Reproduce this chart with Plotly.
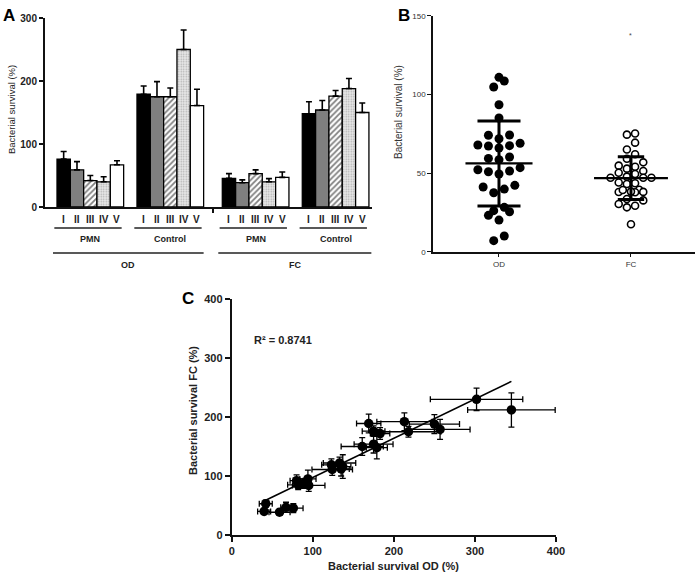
import numpy as np
import plotly.graph_objects as go

FONT = "Liberation Sans, Arial, sans-serif"
W, H = 700, 577

# ---------------- Panel A data ----------------
isolates = ["I", "II", "III", "IV", "V"]
group_names = ["PMN", "Control", "PMN", "Control"]
super_names = ["OD", "FC"]
od_pmn = [76, 59, 42, 40, 67]
od_pmn_err = [12, 13, 8, 8, 6.5]
od_ctrl = [179, 175, 175, 250, 161]
od_ctrl_err = [13, 24, 14, 31, 26]
fc_pmn = [45.5, 38.6, 53, 40, 47]
fc_pmn_err = [7.5, 4.5, 6, 5, 8.5]
fc_ctrl = [148, 154, 176, 188, 150]
fc_ctrl_err = [19, 15, 9, 16, 15]
a_yticks = [0, 100, 200, 300]

# ---------------- Panel B data ----------------
b_categories = ["OD", "FC"]
od_survival = [7, 10, 20.1, 23.1, 25.4, 26.1, 28.2, 37.5, 39.8, 41.1, 42.2,
               49.4, 50.8, 51.3, 52.1, 53.4, 58.5, 59.3, 60.2, 65.9, 67.2,
               67.4, 67.8, 68.9, 71.8, 74, 74.2, 85, 93.4, 104.7, 108.5, 110.8]
fc_survival = [75.1, 74.4, 69.3, 65, 61.9, 59.1, 56.8, 54.7, 54.0, 51.3, 52.8,
               50.2, 49.4, 47.7, 47, 47, 47, 44, 43.5, 43, 39.4, 38, 37.8, 37.9,
               38.2, 39.2, 33.5, 32.6, 30.3, 29.2, 28.2, 17.4]
fc_outlier_mark = 139
b_yticks = [0, 50, 100, 150]

# ---------------- Panel C data ----------------
c_od = [40, 42, 59, 67, 76, 80, 82, 88, 94, 95, 123, 124, 133, 137, 135,
        161, 169, 175, 175, 179, 183, 213, 218, 250, 257, 302, 345]
c_fc = [40, 53, 38.6, 47, 45.5, 92, 85, 87, 95, 84, 119, 111, 122, 116, 112,
        150, 189, 154, 176, 148, 172, 192, 175, 188, 179, 230, 212]
c_od_err = [8, 8, 13, 6.5, 12, 8, 13, 10, 10, 20, 12, 25, 20, 10, 10,
            26, 15, 24, 14, 13, 12, 34, 40, 31, 37, 57, 54]
c_fc_err = [5, 6, 4.5, 8.5, 7.5, 10, 8, 8, 15, 10, 10, 10, 10, 20, 12,
            15, 16, 15, 9, 19, 10, 15, 9, 16, 17, 19, 29]
fit_slope = 0.665
fit_intercept = 31.0
r2_text = "R² = 0.8741"
c_ticks = [0, 100, 200, 300, 400]


def px_x(p):
    return p / W


def px_y(p):
    return 1 - p / H


fig = go.Figure()

# ---------- Panel A bars ----------
group_starts = [0, 6, 12.4, 18.4]
all_vals = [od_pmn, od_ctrl, fc_pmn, fc_ctrl]
all_errs = [od_pmn_err, od_ctrl_err, fc_pmn_err, fc_ctrl_err]
styles = [
    dict(color="black"),
    dict(color="#7f7f7f"),
    dict(color="white", pattern=dict(shape="/", fgcolor="black", bgcolor="white", size=4, solidity=0.45)),
    dict(color="#d9d9d9", pattern=dict(shape=".", fgcolor="#707070", bgcolor="#e8e8e8", size=2.5, solidity=0.3)),
    dict(color="white"),
]
for k, iso in enumerate(isolates):
    xs = [g + k for g in group_starts]
    ys = [vals[k] for vals in all_vals]
    es = [errs[k] for errs in all_errs]
    m = dict(styles[k])
    m["line"] = dict(color="black", width=1.3)
    fig.add_trace(go.Bar(
        x=xs, y=ys, width=1.0, marker=m, name=iso, showlegend=False,
        error_y=dict(type="data", symmetric=False, array=es, arrayminus=[0] * 4,
                     color="black", thickness=1.6, width=3),
        xaxis="x", yaxis="y"))

# ---------- Panel B swarm ----------
def swarm(values, w, step):
    order = sorted(range(len(values)), key=lambda i: values[i])
    xs = [0.0] * len(values)
    groups, cur = [], []
    for i in order:
        if cur and values[i] - values[cur[0]] > w:
            groups.append(cur)
            cur = []
        cur.append(i)
    groups.append(cur)
    for g in groups:
        n = len(g)
        slots = sorted([(j - (n - 1) / 2) for j in range(n)], key=lambda s: (abs(s), s))
        for idx, i in enumerate(g):
            xs[i] = slots[idx] * step
    return xs

od_off = swarm(od_survival, 5.5, 0.08)
fc_off = swarm(fc_survival, 4.5, 0.062)
fig.add_trace(go.Scatter(
    x=[0 + o for o in od_off], y=od_survival, mode="markers",
    marker=dict(color="black", size=9), showlegend=False, xaxis="x2", yaxis="y2"))
fig.add_trace(go.Scatter(
    x=[1 + o for o in fc_off], y=fc_survival, mode="markers",
    marker=dict(color="white", size=7, line=dict(color="black", width=1.6)),
    showlegend=False, xaxis="x2", yaxis="y2"))

shapes = []
for ci, (vals, mhalf, chalf) in enumerate([(od_survival, 0.254, 0.163), (fc_survival, 0.28, 0.1)]):
    mu = float(np.mean(vals))
    sd = float(np.std(vals, ddof=1))
    shapes.append(dict(type="line", xref="x2", yref="y2", x0=ci - mhalf, x1=ci + mhalf,
                       y0=mu, y1=mu, line=dict(color="black", width=2.2), layer="above"))
    for yy in (mu - sd, mu + sd):
        shapes.append(dict(type="line", xref="x2", yref="y2", x0=ci - chalf, x1=ci + chalf,
                           y0=yy, y1=yy, line=dict(color="black", width=3), layer="above"))
    shapes.append(dict(type="line", xref="x2", yref="y2", x0=ci, x1=ci,
                       y0=mu - sd, y1=mu + sd, line=dict(color="black", width=3), layer="above"))

# ---------- Panel C ----------
fig.add_trace(go.Scatter(
    x=c_od, y=c_fc, mode="markers",
    marker=dict(color="black", size=9.5),
    error_x=dict(type="data", array=c_od_err, color="black", thickness=1.3, width=3),
    error_y=dict(type="data", array=c_fc_err, color="black", thickness=1.3, width=3),
    showlegend=False, xaxis="x3", yaxis="y3"))
fx = [min(c_od), max(c_od)]
fig.add_trace(go.Scatter(
    x=fx, y=[fit_slope * v + fit_intercept for v in fx], mode="lines",
    line=dict(color="black", width=1.6), showlegend=False, xaxis="x3", yaxis="y3"))

# ---------- annotations ----------
ann = []


def add_ann(**kw):
    kw.setdefault("showarrow", False)
    kw.setdefault("xanchor", "center")
    kw.setdefault("yanchor", "middle")
    ann.append(kw)


for gi, g in enumerate(group_starts):
    for k, iso in enumerate(isolates):
        add_ann(x=g + k, y=px_y(219), xref="x", yref="paper", text=iso,
                font=dict(family=FONT, size=10, color="#222", weight="bold"))
    left, right = g - 0.5, g + 4.5
    shapes.append(dict(type="line", xref="x", yref="paper", x0=left - 0.2, x1=right - 0.15,
                       y0=px_y(228), y1=px_y(228), line=dict(color="#222", width=1.5)))
    add_ann(x=g + 2, y=px_y(238.5), xref="x", yref="paper", text=group_names[gi],
            font=dict(family=FONT, size=9, color="#222", weight="bold"))
for si, name in enumerate(super_names):
    x0 = group_starts[2 * si] - 0.5 - 0.3
    x1 = group_starts[2 * si + 1] + 4.5 + (0 if si == 0 else 0.2)
    shapes.append(dict(type="line", xref="x", yref="paper", x0=x0, x1=x1,
                       y0=px_y(253), y1=px_y(253), line=dict(color="#222", width=1.5)))
    add_ann(x=(x0 + x1) / 2, y=px_y(264.5), xref="x", yref="paper", text=name,
            font=dict(family=FONT, size=9, color="#222", weight="bold"))

add_ann(x=px_x(12), y=px_y(110), xref="paper", yref="paper", text="Bacterial survival (%)",
        textangle=-90, font=dict(family=FONT, size=9.5, color="#222"))
add_ann(x=px_x(398), y=px_y(112), xref="paper", yref="paper", text="Bacterial survival (%)",
        textangle=-90, font=dict(family=FONT, size=10, color="#333"))
add_ann(x=px_x(193), y=px_y(410), xref="paper", yref="paper", text="Bacterial survival FC (%)",
        textangle=-90, font=dict(family=FONT, size=11, color="#222", weight="bold"))
add_ann(x=px_x(393), y=px_y(566), xref="paper", yref="paper", text="Bacterial survival OD (%)",
        font=dict(family=FONT, size=11, color="#222", weight="bold"))
add_ann(x=px_x(252), y=px_y(340), xref="paper", yref="paper", text=r2_text, xanchor="left",
        font=dict(family=FONT, size=11, color="#222", weight="bold"))
for letter, lx, ly in [("A", 9, 15), ("B", 404, 15), ("C", 188, 298)]:
    add_ann(x=px_x(lx), y=px_y(ly), xref="paper", yref="paper", text=letter,
            font=dict(family=FONT, size=17, color="black", weight="bold"))
add_ann(x=1, y=fc_outlier_mark, xref="x2", yref="y2", text="*", yshift=-2,
        font=dict(family=FONT, size=7, color="#444"))

axis_common = dict(showgrid=False, zeroline=False, showline=True, linecolor="#111",
                   ticks="outside", tickcolor="#111", mirror=False, automargin=False)

fig.update_layout(
    width=W, height=H, margin=dict(l=0, r=0, t=0, b=0, pad=0, autoexpand=False),
    paper_bgcolor="white", plot_bgcolor="white",
    barmode="overlay", showlegend=False, hovermode=False,
    font=dict(family=FONT),
    xaxis=dict(domain=[px_x(45), px_x(371.6)], range=[-1.4, 23.1], anchor="y",
               tickvals=[11.2], ticktext=[""], ticklen=4, tickwidth=1.5, linewidth=2,
               **axis_common),
    yaxis=dict(domain=[px_y(207), px_y(18)], range=[0, 300], anchor="x",
               tickvals=a_yticks, ticklen=4, tickwidth=1.5, linewidth=2,
               tickfont=dict(family=FONT, size=10, color="#222", weight="bold"),
               **axis_common),
    xaxis2=dict(domain=[px_x(433), px_x(695)], range=[-0.5, 1.485], anchor="y2",
                tickvals=[0, 1], ticktext=b_categories, ticklen=4, tickwidth=1.2, linewidth=1.5,
                tickfont=dict(family=FONT, size=8, color="#333"), **axis_common),
    yaxis2=dict(domain=[px_y(251.7), px_y(15.7)], range=[0, 150], anchor="x2",
                tickvals=b_yticks, ticklen=4, tickwidth=1.2, linewidth=1.5,
                tickfont=dict(family=FONT, size=8, color="#333"), **axis_common),
    xaxis3=dict(domain=[px_x(231.7), px_x(556)], range=[0, 400], anchor="y3",
                tickvals=c_ticks, ticklen=5, tickwidth=1.5, linewidth=2,
                tickfont=dict(family=FONT, size=11, color="#222", weight="bold"), **axis_common),
    yaxis3=dict(domain=[px_y(535), px_y(299)], range=[0, 400], anchor="x3",
                tickvals=c_ticks, ticklen=5, tickwidth=1.5, linewidth=2,
                tickfont=dict(family=FONT, size=11, color="#222", weight="bold"), **axis_common),
    shapes=shapes, annotations=ann,
)

# remove the default 8px page margin so the figure sits at the window's top-left corner
fig.write_html("out.html", config={"displayModeBar": False},
               post_script="document.body.style.margin='0px';")
